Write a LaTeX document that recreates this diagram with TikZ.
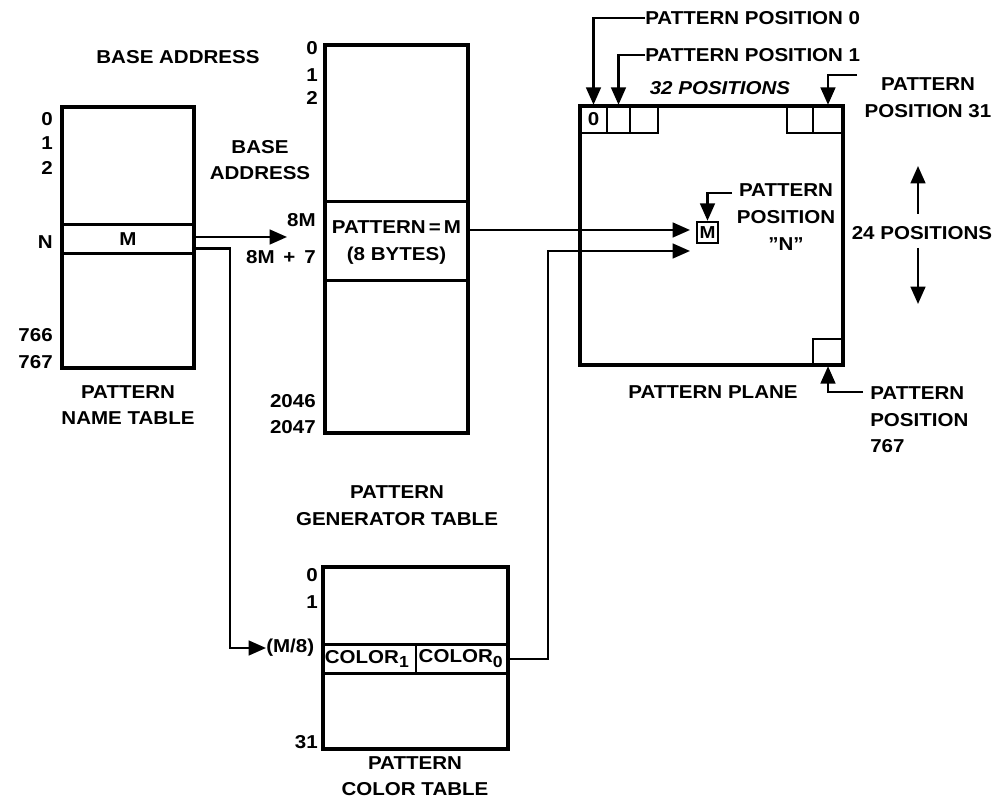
\documentclass[tikz,border=0pt]{standalone}
\usepackage{fontspec}
\setmainfont[FakeStretch=1.1]{Liberation Sans}
\usetikzlibrary{arrows.meta,fit}
\newcommand\subnum[1]{\raisebox{-0.5ex}{\fontsize{12}{12}\selectfont#1}}
\begin{document}
\begin{tikzpicture}[x=0.75pt,y=-0.75pt,
  every node/.style={font=\bfseries\fontsize{14}{20}\selectfont, inner sep=0pt},
  box/.style={draw, line width=2.5pt, inner sep=0pt},
  rowline/.style={line width=2.5pt},
  cellbox/.style={draw, line width=1.8pt, inner sep=0pt},
  conn/.style={line width=1.8pt},
  arr/.style={-{Triangle[length=13pt,width=11pt]}},
  lbl/.style={anchor=east}]
\useasboundingbox (0,0) rectangle (1000,798);

% ---------- pattern name table ----------
\node[box, fit={(62,107) (194,368)}] (nt) {};
\node[fit={(62,225) (194,253)}] (ntM) {};
\node (ntMt) at (ntM.center) {M};
\draw[rowline] (ntM.north west) -- (ntM.north east) (ntM.south west) -- (ntM.south east);
\node[lbl] (nt0) at (53,119) {0};
\node[lbl] (nt1) at (53,143) {1};
\node[lbl] (nt2) at (53,168) {2};
\node[lbl] (ntN) at (53,242) {N};
\node[lbl] (nt766) at (53,335) {766};
\node[lbl] (nt767) at (53,362) {767};
\node (ba1) at (178,57) {BASE ADDRESS};
\node[align=center] (ntname) at (128,405) {PATTERN\\NAME TABLE};

% ---------- pattern generator table ----------
\node[box, fit={(325,45) (468,433)}] (gt) {};
\node[fit={(325,202) (468,280)}] (gtM) {};
\node[align=center] (gtMt) at ([yshift=-1pt]gtM.center) {PATTERN\,=\,M\\(8 BYTES)};
\draw[rowline] (gtM.north west) -- (gtM.north east) (gtM.south west) -- (gtM.south east);
\node[lbl] (gt0) at (318,48) {0};
\node[lbl] (gt1) at (318,75) {1};
\node[lbl] (gt2) at (318,98) {2};
\node[lbl] (gt8m) at (316,220) {8M};
\node[lbl] (gt8m7) at (316,257) {8M\, +\, 7};
\node[lbl] (gt2046) at (316,401) {2046};
\node[lbl] (gt2047) at (316,427) {2047};
\node[align=center] (ba2) at (260,160) {BASE\\ADDRESS};
\node[align=center] (gtname) at (397,506) {PATTERN\\GENERATOR TABLE};

% ---------- pattern color table ----------
\node[box, fit={(323,567) (508,749)}] (ct) {};
\node[fit={(323,645) (416,673)}] (c1) {};
\node[fit={(416,645) (508,673)}] (c0) {};
\node (c1t) at ([xshift=-2pt]c1.center) {COLOR\subnum{1}};
\node (c0t) at ([xshift=-1pt]c0.center) {COLOR\subnum{0}};
\draw[rowline] (c1.north west) -- (c0.north east) (c1.south west) -- (c0.south east);
\draw[conn] (c1.north east) -- (c1.south east);
\node[lbl] (ct0) at (318,575) {0};
\node[lbl] (ct1) at (318,602) {1};
\node[lbl] (ct31) at (318,742) {31};
\node[anchor=west] (m8) at (266,648) {(M/8)};
\node[align=center] (ctname) at (415,776) {PATTERN\\COLOR TABLE};

% ---------- pattern plane ----------
\node[box, fit={(580,106) (843,365)}] (pp) {};
\node[cellbox, fit={(580,106) (607,133)}] (cA) {};
\node (cAt) at (cA.center) {0};
\node[cellbox, fit={(607,106) (630,133)}] (cB) {};
\node[cellbox, fit={(630,106) (658,133)}] (cC) {};
\node[cellbox, fit={(787,106) (813,133)}] (cY) {};
\node[cellbox, fit={(813,106) (843,133)}] (cZ) {};
\node[cellbox, fit={(813,339) (843,365)}] (cL) {};
\node[cellbox, fit={(697,222) (718,243)}] (mc) {};
\node[font=\bfseries\fontsize{13}{13}\selectfont] (mct) at (mc.center) {M};

\node[anchor=west] (pp0) at (645,18) {PATTERN POSITION 0};
\node[anchor=west] (pp1) at (645,55) {PATTERN POSITION 1};
\node[font=\bfseries\itshape\fontsize{14}{20}\selectfont] (p32) at (720,88) {32 POSITIONS};
\node[align=center] (pp31) at (928,98) {PATTERN\\POSITION 31};
\node[align=center] (ppn) at (786,217) {PATTERN\\POSITION\\''N''};
\node (p24) at (922,233) {24 POSITIONS};
\node (ppl) at (713,392) {PATTERN PLANE};
\node[anchor=west, align=left] (pp767) at (870,420) {PATTERN\\POSITION\\767};

\coordinate (k31) at (857,75);
\coordinate (kn) at (732,193);
\coordinate (k767) at (863,392);
\coordinate (t1) at (690,230);
\coordinate (t2) at (690,251);
\coordinate (a8) at (287,237);
\coordinate (u0) at (918,214);
\coordinate (u1) at (918,166);
\coordinate (d0) at (918,248);
\coordinate (d1) at (918,304);

% ---------- connectors ----------
\draw[conn,arr] (ntM.east |- a8) -- (a8);
\draw[conn,arr] ([yshift=3.5pt]ntM.south east) -- ++(36,0) |- (m8.west);
\draw[conn,arr] (gtM.east |- t1) -- (t1);
\draw[conn,arr] (c0.east) -- ++(40,0) |- (t2);
\draw[conn,arr] (pp0.west) -| (cA.north);
\draw[conn,arr] (pp1.west) -| (cB.north);
\draw[conn,arr] (k31) -| (cZ.north);
\draw[conn,arr] (kn) -| (mc.north);
\draw[conn,arr] (k767) -| (cL.south);
\draw[conn,arr] (u0) -- (u1);
\draw[conn,arr] (d0) -- (d1);
\end{tikzpicture}
\end{document}
